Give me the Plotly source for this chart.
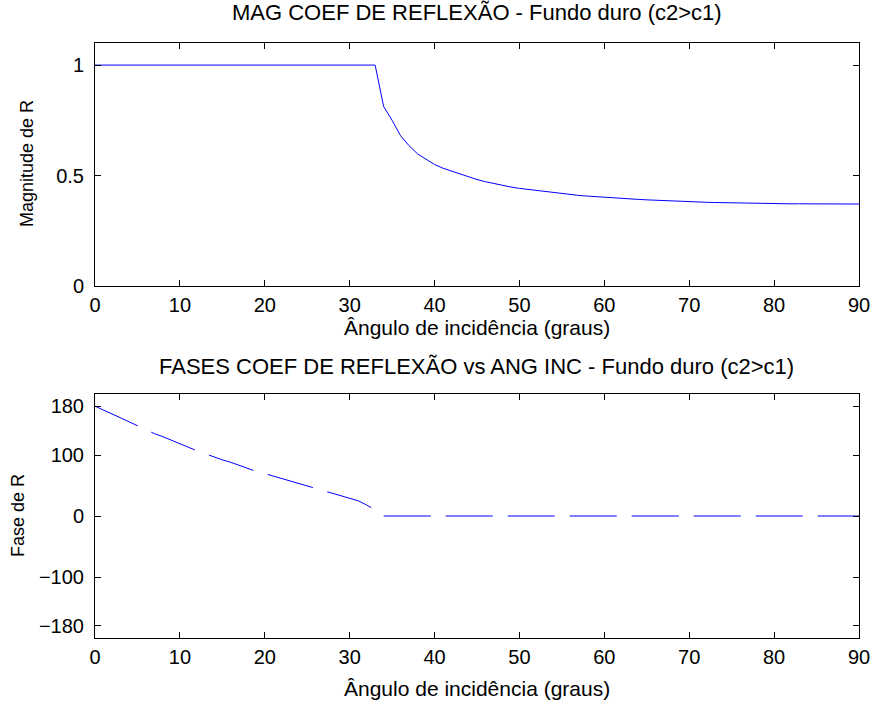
import plotly.graph_objects as go

# Angle of incidence (degrees), sampled every degree
angulo = list(range(0, 91))

# |R| for the hard bottom (c2 > c1)
magnitude = [1.0] * 34 + [
    0.813, 0.750, 0.680, 0.635, 0.598, 0.572, 0.550, 0.533, 0.520, 0.508,
    0.497, 0.482, 0.472, 0.463, 0.455, 0.448, 0.442, 0.437, 0.432, 0.427,
    0.422, 0.418, 0.414, 0.410, 0.407, 0.404, 0.401, 0.399, 0.397, 0.394,
    0.392, 0.390, 0.388, 0.386, 0.384, 0.383, 0.381, 0.380, 0.379, 0.378,
    0.377, 0.376, 0.375, 0.375, 0.374, 0.374, 0.373, 0.373, 0.372, 0.372,
    0.372, 0.372, 0.371, 0.371, 0.371, 0.371, 0.371,
]

# Phase of R (degrees)
fase = [
    180, 174, 167.5, 161, 154.5, 148, 142, 135, 130, 124,
    118, 112.5, 107, 102, 96.5, 92, 88, 83, 78, 73,
    69.5, 65.5, 61, 57, 53.5, 50, 45, 41, 37.5, 33.5,
    29.5, 25, 18, 10,
] + [0] * 57

x_ticks = list(range(0, 91, 10))
mag_ticks = [0, 0.5, 1]
fase_ticks = [-180, -100, 0, 100, 180]

W, H = 876, 704
FONT = "Liberation Sans, Arial, sans-serif"
BLUE = "#0000ff"


def px_x(p):
    return p / W


def px_y(p):
    return 1 - p / H


fig = go.Figure()
fig.add_trace(go.Scatter(x=angulo, y=magnitude, mode="lines",
                         line=dict(color=BLUE, width=1),
                         xaxis="x", yaxis="y", showlegend=False))
fig.add_trace(go.Scatter(x=angulo, y=fase, mode="lines",
                         line=dict(color=BLUE, width=1, dash="47px,15px"),
                         xaxis="x2", yaxis="y2", showlegend=False))

axis_style = dict(
    showline=True, linecolor="black", linewidth=1, mirror="ticks",
    ticks="inside", ticklen=6, tickcolor="black", tickwidth=1,
    showgrid=False, zeroline=False, automargin=False,
    tickfont=dict(family=FONT, size=20, color="black"),
)

xdom = [px_x(95), px_x(859)]
fig.update_layout(
    width=W, height=H,
    margin=dict(l=0, r=0, t=0, b=0),
    paper_bgcolor="white", plot_bgcolor="white",
    xaxis=dict(domain=xdom, range=[0, 90], tickvals=x_ticks,
               anchor="y", ticklabelstandoff=1, **axis_style),
    yaxis=dict(domain=[px_y(286), px_y(43)], range=[0, 1.1],
               tickvals=mag_ticks, ticktext=["0", "0.5", "1"],
               anchor="x", ticklabelstandoff=6, **axis_style),
    xaxis2=dict(domain=xdom, range=[0, 90], tickvals=x_ticks,
                anchor="y2", ticklabelstandoff=1, **axis_style),
    yaxis2=dict(domain=[px_y(638), px_y(394)], range=[-200, 200],
                tickvals=fase_ticks, anchor="x2", ticklabelstandoff=6,
                **axis_style),
)

texts = [
    ("MAG COEF DE REFLEXÃO - Fundo duro (c2>c1)", 477, 13, 0, 22),
    ("Ângulo de incidência (graus)", 477, 328, 0, 21),
    ("FASES COEF DE REFLEXÃO vs ANG INC - Fundo duro (c2>c1)", 477, 366, 0, 22),
    ("Ângulo de incidência (graus)", 477, 688, 0, 21),
    ("Magnitude de R", 27, 164, -90, 18),
    ("Fase de R", 18, 516, -90, 18),
]
for txt, x, y, ang, size in texts:
    fig.add_annotation(text=txt, x=px_x(x), y=px_y(y), xref="paper", yref="paper",
                       xanchor="center", yanchor="middle", showarrow=False,
                       textangle=ang, font=dict(family=FONT, size=size, color="black"))

fig.write_html("out.html")
